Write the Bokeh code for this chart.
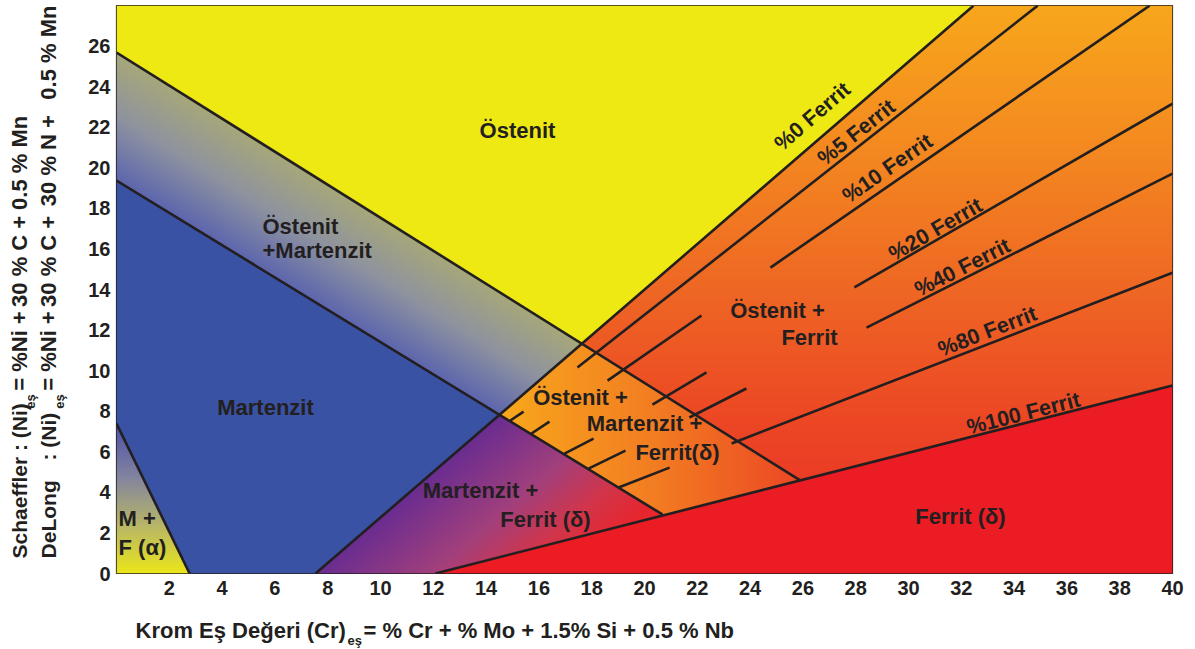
import numpy as np
from bokeh.plotting import figure
from bokeh.layouts import row, column
from bokeh.models import FixedTicker, ColumnDataSource
from bokeh.embed import file_html
from bokeh.resources import INLINE
from bokeh.core.properties import value

# ---------------- data (x = Cr_eq, y = Ni_eq) ----------------
x_ticks = list(range(2, 41, 2))
y_ticks = list(range(0, 27, 2))

aust_mart_x = [0.0, 25.91]      # upper martensite boundary (A / A+M)
aust_mart_y = [25.68, 4.58]
mart_x = [0.0, 20.68]           # lower martensite boundary (M / A+M)
mart_y = [19.37, 2.91]
mf_x = [0.0, 2.77]              # M + F(alpha) boundary
mf_y = [7.39, 0.0]
ferrite_0_x = [7.54, 32.46]
ferrite_0_y = [0.0, 27.99]
ferrite_100_x = [12.08, 40.0]
ferrite_100_y = [0.0, 9.27]
ferrite_80_xs = [[19.02, 20.95], [23.30, 40.0]]
ferrite_80_ys = [[4.24, 5.22], [6.41, 14.83]]
ferrite_40_xs = [[17.88, 19.28], [21.70, 23.86], [28.41, 40.0]]
ferrite_40_ys = [[5.17, 6.06], [7.69, 9.12], [12.12, 19.71]]
ferrite_20_xs = [[16.97, 18.07], [20.30, 22.35], [27.95, 40.0]]
ferrite_20_ys = [[5.91, 6.65], [8.33, 9.91], [14.10, 23.16]]
ferrite_10_xs = [[15.72, 16.40], [18.60, 22.16], [24.77, 39.13]]
ferrite_10_ys = [[6.90, 7.49], [9.51, 12.72], [15.08, 27.99]]
ferrite_5_xs = [[14.92, 15.42], [17.46, 34.89]]
ferrite_5_ys = [[7.54, 7.98], [10.15, 27.99]]

region_text = ["Östenit", "Östenit", "+Martenzit", "Martenzit", "M +", "F (α)",
               "Martenzit +", "Ferrit (δ)", "Östenit +", "Martenzit +", "Ferrit(δ)",
               "Östenit +", "Ferrit", "Ferrit (δ)"]
ferrite_label_text = ["%0 Ferrit", "%5 Ferrit", "%10 Ferrit", "%20 Ferrit",
                      "%40 Ferrit", "%80 Ferrit", "%100 Ferrit"]
y_title_1 = ["Schaeffler : (Ni)", "eş", "= %Ni +", "30 % C +", "0.5 % Mn"]
y_title_2 = ["DeLong", ": (Ni)", "eş", "= %Ni +", "30 % C +", "30 % N +", "0.5 % Mn"]
x_title = ["Krom Eş Değeri (Cr)", "eş", "= % Cr + %  Mo + 1.5% Si + 0.5 % Nb"]

# ---------------- layout (page pixels) ----------------
TOTAL_W, TOTAL_H = 1192, 648
YT_W = 70                       # left strip holding the y title
FRAME_L, FRAME_T, FW, FH = 116, 5, 1056, 568
MAIN_W = TOTAL_W - YT_W
MAIN_H = 603
XMAX, YMAX = 40.0, 28.0
KX, KY = FW / XMAX, FH / YMAX
INK = "#231F20"
FONT = "Liberation Sans"
FRAME_B = FRAME_T + FH


def px2x(px):
    return (px - FRAME_L) / KX


def py2y(py):
    return (FRAME_B - py) / KY


def line_at(xs, ys, x):
    k = (ys[1] - ys[0]) / (xs[1] - xs[0])
    return ys[0] + k * (x - xs[0])


def hex2rgb(h):
    return [int(h[i:i + 2], 16) for i in (1, 3, 5)]


def grad(t, stops):
    t = np.clip(t, 0, 1)
    pos = [s[0] for s in stops]
    cols = np.array([hex2rgb(s[1]) for s in stops], float)
    out = np.empty(t.shape + (3,))
    for c in range(3):
        out[..., c] = np.interp(t, pos, cols[:, c])
    return out


# ---------------- background colour field ----------------
xc = (np.arange(FW) + 0.5) * XMAX / FW
yc = (np.arange(FH) + 0.5) * YMAX / FH
X, Y = np.meshgrid(xc, yc)
PX = FRAME_L + X * KX
PY = FRAME_B - Y * KY

L0 = line_at(ferrite_0_x, ferrite_0_y, X)
U = line_at(aust_mart_x, aust_mart_y, X)
LW = line_at(mart_x, mart_y, X)
MF = line_at(mf_x, mf_y, X)
F100 = line_at(ferrite_100_x, ferrite_100_y, X)
left = Y > L0

rgb = grad((PY - 5) / 560, [(0, "#F8A71C"), (0.25, "#F48A20"), (0.5, "#EF6824"),
                            (0.75, "#EC4625"), (1, "#E92E26")])
m = (~left) & (Y < U) & (Y > LW)
rgb[m] = grad((PX - 500) / 300, [(0, "#F8A81C"), (0.5, "#F37E22"), (1, "#EC4824")])[m]
x0 = ferrite_0_x[0] + Y * (ferrite_0_x[1] - ferrite_0_x[0]) / (ferrite_0_y[1] - ferrite_0_y[0])
m = (~left) & (Y <= LW)
rgb[m] = grad((X - x0) * KX / 260, [(0, "#6A2D91"), (0.45, "#A3407C"), (0.75, "#D3354A"),
                                    (1, "#E8262E")])[m]
m = Y < F100
rgb[m] = np.array(hex2rgb("#EC1C24"), float)
m = left & (Y >= U)
rgb[m] = np.array(hex2rgb("#EEE913"), float)
m = left & (Y < U) & (Y > LW)
rgb[m] = grad((U - Y) / (U - LW), [(0, "#A8A87A"), (0.5, "#8E93A0"), (1, "#5D66AE")])[m]
m = left & (Y <= LW)
rgb[m] = np.array(hex2rgb("#3A52A3"), float)
m = left & (Y <= LW) & (Y < MF)
rgb[m] = grad(Y / mf_y[0], [(0, "#ECE71A"), (0.35, "#B3B26E"), (0.65, "#8283A0"),
                            (1, "#4D50A8")])[m]

img = np.empty((FH, FW), dtype=np.uint32)
view = img.view(dtype=np.uint8).reshape((FH, FW, 4))
for c in range(3):
    view[..., c] = rgb[..., c].astype(np.uint8)
view[..., 3] = 255

# ---------------- main figure ----------------
p = figure(frame_width=FW, frame_height=FH, x_range=(0, XMAX), y_range=(0, YMAX),
           output_backend="svg", toolbar_location=None, align="start",
           min_border_left=FRAME_L - YT_W, min_border_right=MAIN_W - (FRAME_L - YT_W) - FW,
           min_border_top=FRAME_T, min_border_bottom=MAIN_H - FRAME_B)
p.background_fill_color = "white"
p.border_fill_color = "white"
p.grid.visible = False
p.outline_line_color = INK
p.outline_line_width = 1.2

p.image_rgba(image=[img], x=0, y=0, dw=XMAX, dh=YMAX)

for ax, ticks in ((p.xaxis, x_ticks), (p.yaxis, y_ticks)):
    ax.ticker = FixedTicker(ticks=ticks)
    ax.axis_line_color = None
    ax.major_tick_line_color = None
    ax.minor_tick_line_color = None
    ax.major_tick_out = 0
    ax.major_tick_in = 0
    ax.minor_tick_out = 0
    ax.major_label_text_font = FONT
    ax.major_label_text_font_style = "bold"
    ax.major_label_text_font_size = "20px"
    ax.major_label_text_color = INK
p.xaxis.major_label_standoff = 7
p.yaxis.major_label_standoff = 6

lw = 2.6
p.line(aust_mart_x, aust_mart_y, line_color=INK, line_width=lw)
p.line(mart_x, mart_y, line_color=INK, line_width=lw)
p.line(mf_x, mf_y, line_color=INK, line_width=lw)
p.line(ferrite_0_x, ferrite_0_y, line_color=INK, line_width=lw)
p.line(ferrite_100_x, ferrite_100_y, line_color=INK, line_width=lw)
for xs, ys in ((ferrite_5_xs, ferrite_5_ys), (ferrite_10_xs, ferrite_10_ys),
               (ferrite_20_xs, ferrite_20_ys), (ferrite_40_xs, ferrite_40_ys),
               (ferrite_80_xs, ferrite_80_ys)):
    p.multi_line(xs, ys, line_color=INK, line_width=lw)

reg_pos = [(517, 130, "center"), (262, 226, "left"), (262, 250, "left"), (265, 407, "center"),
           (118, 518, "left"), (118, 547, "left"), (480, 490, "center"), (545, 519, "center"),
           (580, 397, "center"), (644, 423, "center"), (677, 452, "center"),
           (777, 310, "center"), (809, 337, "center"), (960, 516, "center")]
src = ColumnDataSource(dict(x=[px2x(a) for a, b, c in reg_pos], y=[py2y(b) for a, b, c in reg_pos],
                            text=region_text, align=[c for a, b, c in reg_pos]))
p.text(x="x", y="y", text="text", text_align="align", source=src, text_font=value(FONT),
       text_font_style="bold", text_font_size="22px", text_color=INK, text_baseline="middle")

lab_pos = [(812, 116), (856, 132), (887, 168), (935, 229), (962, 267), (987, 331), (1023, 413)]
lines_for_angle = [(ferrite_0_x, ferrite_0_y), (ferrite_5_xs[-1], ferrite_5_ys[-1]),
                   (ferrite_10_xs[-1], ferrite_10_ys[-1]), (ferrite_20_xs[-1], ferrite_20_ys[-1]),
                   (ferrite_40_xs[-1], ferrite_40_ys[-1]), (ferrite_80_xs[-1], ferrite_80_ys[-1]),
                   (ferrite_100_x, ferrite_100_y)]
angles = [float(np.arctan2((ys[1] - ys[0]) * KY, (xs[1] - xs[0]) * KX)) for xs, ys in lines_for_angle]
src2 = ColumnDataSource(dict(x=[px2x(a) for a, b in lab_pos], y=[py2y(b) for a, b in lab_pos],
                             text=ferrite_label_text, angle=angles))
p.text(x="x", y="y", text="text", angle="angle", source=src2, text_font=value(FONT),
       text_font_style="bold", text_font_size="21.5px", text_color=INK,
       text_align="center", text_baseline="middle")


# ---------------- title strips (pixel-coordinate figures) ----------------
def strip(w, h):
    f = figure(width=w, height=h, x_range=(0, w), y_range=(0, h), output_backend="svg",
               toolbar_location=None, x_axis_location=None, y_axis_location=None,
               min_border=0, align="start")
    f.grid.visible = False
    f.outline_line_color = None
    f.background_fill_color = "white"
    f.border_fill_color = "white"
    return f


def put(f, xs, ys, texts, sizes, angle):
    s = ColumnDataSource(dict(x=xs, y=ys, text=texts, size=sizes))
    f.text(x="x", y="y", text="text", text_font_size="size", source=s, angle=angle,
           text_font=value(FONT), text_font_style="bold", text_color=INK,
           text_align="left", text_baseline="middle")


R = np.pi / 2
# y strip spans page y 0..MAIN_H; strip y = MAIN_H - page y ; x = centre line of the text
yt = strip(YT_W, MAIN_H)
put(yt, [19, 30, 19, 19, 19], [MAIN_H - v for v in (587, 428, 409, 320, 217)],
    y_title_1, ["21px", "13px", "22px", "22px", "22px"], R)
put(yt, [48, 48, 59, 48, 48, 48, 48],
    [MAIN_H - v for v in (587, 483, 428, 409, 320, 213, 100)],
    y_title_2, ["21px", "21px", "13px", "22px", "22px", "22px", "22px"], R)

# x strip spans the full page width below the plot: strip x = page x, strip y = TOTAL_H - page y
XT_H = TOTAL_H - MAIN_H
xt = strip(TOTAL_W, XT_H)
put(xt, [135, 347, 363], [TOTAL_H - 630, TOTAL_H - 640, TOTAL_H - 630],
    x_title, ["22px", "13px", "22px"], 0.0)

layout = column(row(yt, p, spacing=0, align="start"), xt, spacing=0, align="start")
open("out.html", "w").write(file_html(layout, INLINE))
